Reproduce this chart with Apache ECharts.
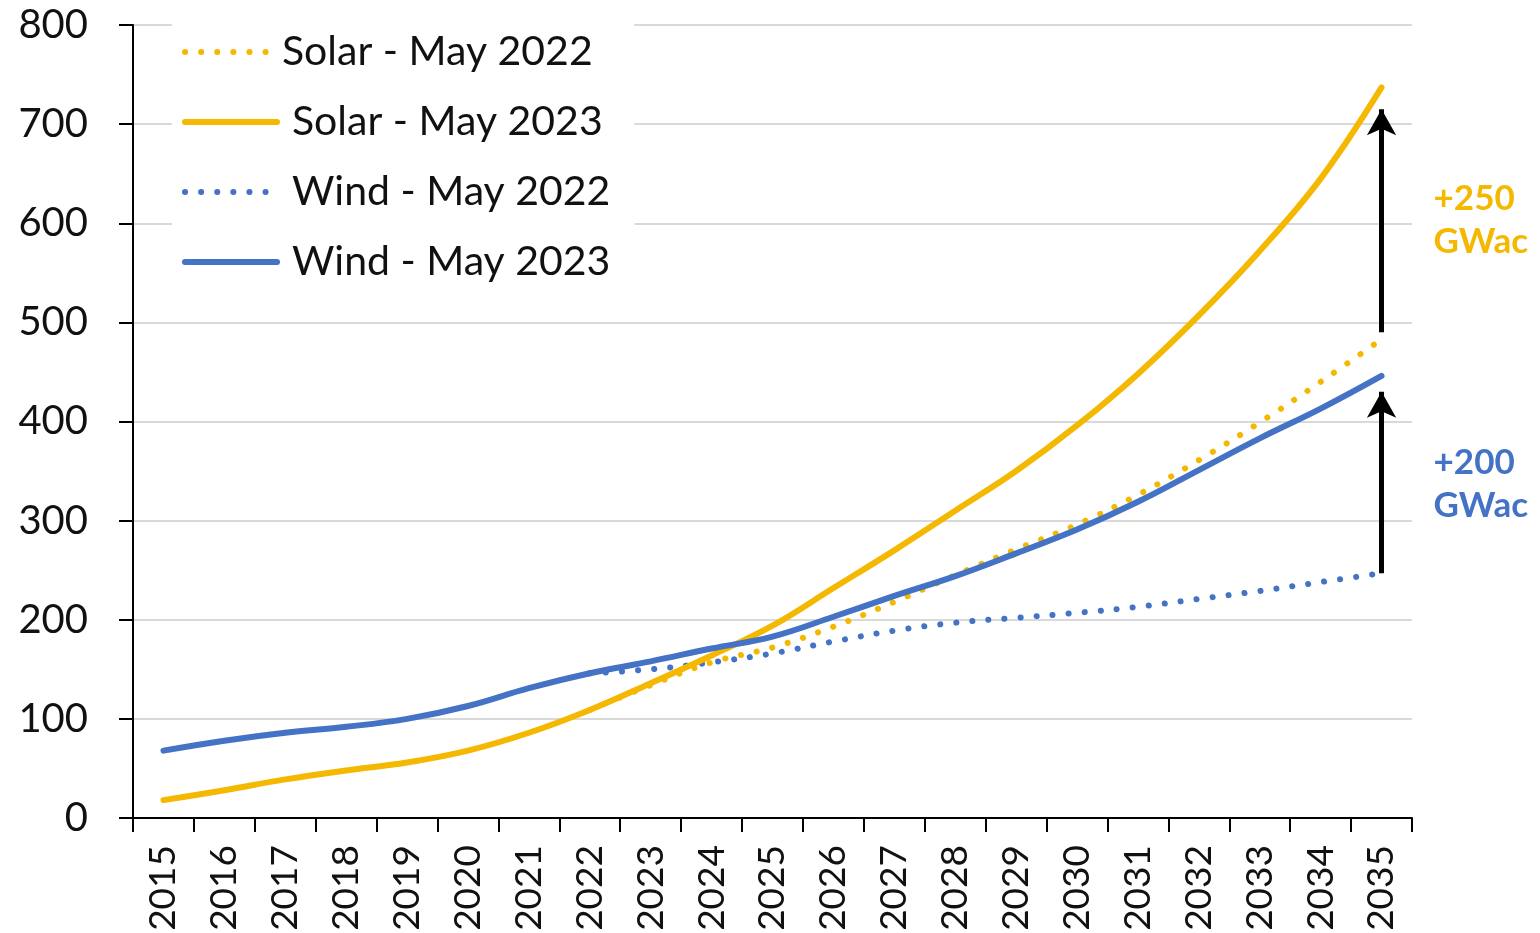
<!DOCTYPE html>
<html>
<head>
<meta charset="utf-8">
<script src="https://cdn.jsdelivr.net/npm/echarts@6/dist/echarts.min.js"></script>
<style>html,body{margin:0;padding:0;background:#fff;}#c{width:1540px;height:933px;}</style>
</head>
<body>
<div id="c"></div>
<script>
const years = ['2015','2016','2017','2018','2019','2020','2021','2022','2023','2024','2025','2026','2027','2028','2029','2030','2031','2032','2033','2034','2035'];
const solar2022 = [null,null,null,null,null,null,null,109,134,157,172,193,218,245,271,296,326,361,399,440,483];
const solar2023 = [18,28,39,48,56,68,86,109,136,164,194,232,270,310,350,396,448,507,572,645,737];
const wind2022 = [null,null,null,null,null,null,null,146,150,157,166,178,189,197,202,207,213,221,229,238,247];
const wind2023 = [68,78,86,92,100,113,131,146,158,171,183,203,224,244,267,291,319,351,383,413,446];
const yTicks = [0,100,200,300,400,500,600,700,800];
const solarArrow = [490, 715];
const windArrow = [247, 430];
const solarNote = ['+250', 'GWac'];
const windNote = ['+200', 'GWac'];

const SOLAR = '#F5B800', WIND = '#4472C4';
const FONT = 'Lato, "Open Sans", sans-serif';
const DOT = [0.1, 16];

const chart = echarts.init(document.getElementById('c'));
chart.setOption({
  animation: false,
  backgroundColor: '#fff',
  grid: { left: 133, right: 128, top: 25, bottom: 115, outerBoundsMode: 'none', containLabel: false },
  legend: {
    orient: 'vertical', left: 172, top: 24,
    backgroundColor: '#fff', padding: [6, 24, 6, 10],
    itemWidth: 92, itemHeight: 44, itemGap: 26,
    itemStyle: { opacity: 0 },
    lineStyle: { width: 6, cap: 'round' },
    textStyle: { fontFamily: FONT, fontSize: 41, lineHeight: 44, color: '#111' },
    data: [
      { name: 'Solar - May 2022' },
      { name: 'Solar - May 2023', textStyle: { padding: [0, 0, 0, 10] } },
      { name: 'Wind - May 2022', textStyle: { padding: [0, 0, 0, 10] } },
      { name: 'Wind - May 2023', textStyle: { padding: [0, 0, 0, 10] } }
    ]
  },
  xAxis: {
    type: 'category', data: years, boundaryGap: true,
    axisLine: { lineStyle: { color: '#000', width: 2 } },
    axisTick: { show: true, length: 14, lineStyle: { color: '#000', width: 2 } },
    axisLabel: { rotate: 90, margin: 27, fontFamily: FONT, fontSize: 37, color: '#111', interval: 0 }
  },
  yAxis: {
    type: 'value', min: 0, max: 800, interval: 100,
    axisLine: { show: true, lineStyle: { color: '#000', width: 2 } },
    axisTick: { show: true, length: 14, lineStyle: { color: '#000', width: 2 } },
    axisLabel: { margin: 45, fontFamily: FONT, fontSize: 40, color: '#111',
      formatter: v => yTicks.includes(v) ? String(v) : '' },
    splitLine: { lineStyle: { color: '#d9d9d9', width: 2 } }
  },
  series: [
    { name: 'Solar - May 2022', type: 'line', data: solar2022, symbol: 'none', smooth: 0.4, z: 2,
      color: SOLAR, lineStyle: { color: SOLAR, width: 6, type: DOT, cap: 'round' } },
    { name: 'Solar - May 2023', type: 'line', data: solar2023, symbol: 'none', smooth: 0.4, z: 3,
      color: SOLAR, lineStyle: { color: SOLAR, width: 6, cap: 'round' },
      markLine: { silent: true, symbol: ['none', 'arrow'], symbolSize: [22, 26],
        lineStyle: { color: '#000', width: 5, type: 'solid' }, label: { show: false },
        data: [[{ coord: ['2035', solarArrow[0]] }, { coord: ['2035', solarArrow[1]] }]] },
      markPoint: { silent: true, symbol: 'circle', symbolSize: 0,
        data: [{ coord: ['2035', 603] }],
        label: { show: true, position: 'right', distance: 52, formatter: solarNote.join('\n'),
          fontFamily: FONT, fontSize: 35, fontWeight: 'bold', color: SOLAR, lineHeight: 43, align: 'left' } } },
    { name: 'Wind - May 2022', type: 'line', data: wind2022, symbol: 'none', smooth: 0.4, z: 2,
      color: WIND, lineStyle: { color: WIND, width: 6, type: DOT, cap: 'round' } },
    { name: 'Wind - May 2023', type: 'line', data: wind2023, symbol: 'none', smooth: 0.4, z: 3,
      color: WIND, lineStyle: { color: WIND, width: 6, cap: 'round' },
      markLine: { silent: true, symbol: ['none', 'arrow'], symbolSize: [22, 26],
        lineStyle: { color: '#000', width: 5, type: 'solid' }, label: { show: false },
        data: [[{ coord: ['2035', windArrow[0]] }, { coord: ['2035', windArrow[1]] }]] },
      markPoint: { silent: true, symbol: 'circle', symbolSize: 0,
        data: [{ coord: ['2035', 337] }],
        label: { show: true, position: 'right', distance: 52, formatter: windNote.join('\n'),
          fontFamily: FONT, fontSize: 35, fontWeight: 'bold', color: WIND, lineHeight: 43, align: 'left' } } }
  ]
});
</script>
</body>
</html>
